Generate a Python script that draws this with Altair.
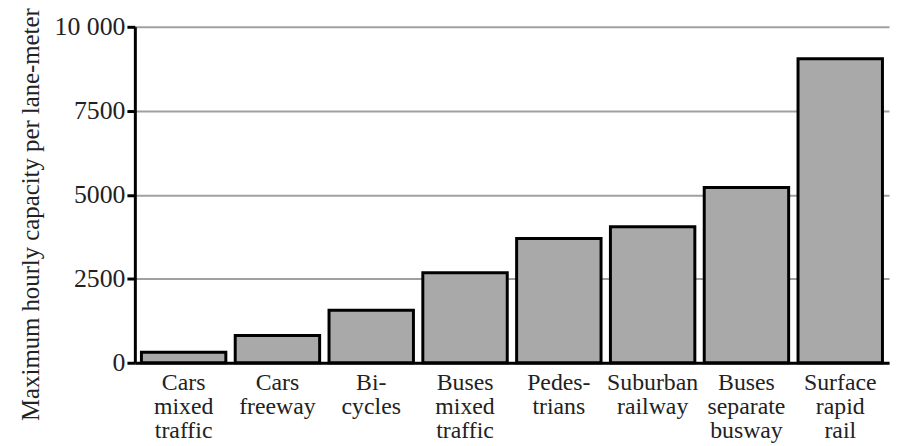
import altair as alt
import pandas as pd

categories = ["Cars|mixed|traffic", "Cars|freeway", "Bi-|cycles", "Buses|mixed|traffic",
              "Pedes-|trians", "Suburban|railway", "Buses|separate|busway", "Surface|rapid|rail"]
capacity = [310, 810, 1560, 2680, 3700, 4050, 5220, 9050]
y_ticks = [0, 2500, 5000, 7500, 10000]

df = pd.DataFrame({"cat": categories, "cap": capacity})

FONT = "Liberation Serif"

bars = alt.Chart(df).mark_bar(
    color="#a9a9a9", stroke="black", strokeWidth=3
).encode(
    x=alt.X("cat:N", sort=categories, title=None,
            scale=alt.Scale(paddingInner=0.1, paddingOuter=0.07),
            axis=alt.Axis(labelExpr="split(datum.label, '|')", labelAngle=0,
                          labelFont=FONT, labelFontSize=24, labelLineHeight=24,
                          labelColor="#222", labelPadding=8,
                          ticks=False, domain=True, domainColor="black", domainWidth=3,
                          labelBaseline="top")),
    y=alt.Y("cap:Q", title="Maximum hourly capacity per lane-meter",
            scale=alt.Scale(domain=[0, 10000], nice=False),
            axis=alt.Axis(values=y_ticks,
                          labelExpr="datum.value == 10000 ? '10 000' : format(datum.value, 'd')",
                          labelFont=FONT, labelFontSize=26, labelColor="#222",
                          labelPadding=2,
                          titleFont=FONT, titleFontSize=25, titleFontWeight="normal",
                          titleColor="#222", titleX=-105, titleY=189, titleBaseline="middle",
                          tickSize=8, tickWidth=3, tickColor="black",
                          domainColor="black", domainWidth=3,
                          grid=True, gridColor="#a0a0a0", gridWidth=2))
)

chart = bars.properties(
    width=761, height=339,
    autosize=alt.AutoSizeParams(type="none"),
    padding={"left": 128, "top": 17, "right": 2, "bottom": 80},
).configure_view(stroke=None)

chart.save("out.html", embed_options={"renderer": "svg", "actions": False})
